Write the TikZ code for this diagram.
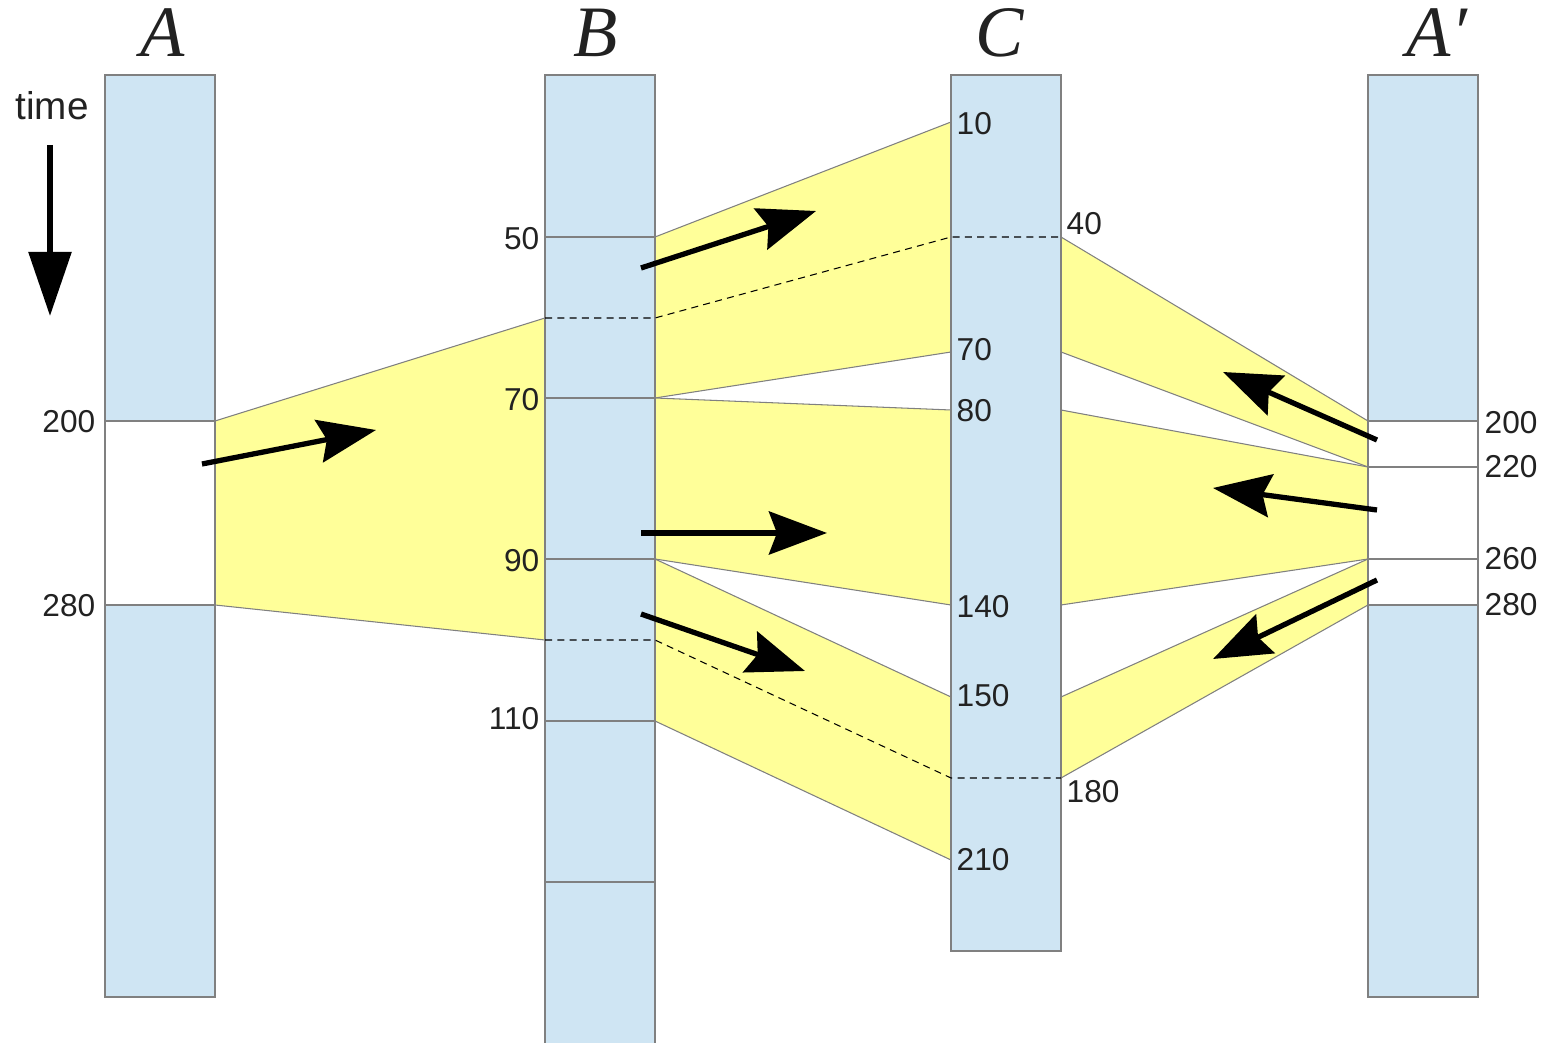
\documentclass[tikz,border=0pt]{standalone}
\usepackage{fontspec}
\setmainfont{Liberation Sans}
\newfontfamily\colfont{Liberation Serif}
\usepackage{xcolor}
\usetikzlibrary{arrows.meta}

\definecolor{slot}{RGB}{207,229,243}
\definecolor{band}{RGB}{255,255,153}
\definecolor{edge}{RGB}{128,128,128}
\definecolor{ink}{RGB}{34,34,34}

\tikzset{
  col/.style={fill=slot, draw=edge, line width=0.3pt},
  rim/.style={draw=edge, line width=0.3pt},
  bandarea/.style={fill=band, draw=edge, line width=0.3pt},
  seam/.style={line width=0.3pt, dash pattern=on 2pt off 1.5pt},
  flow/.style={line width=1.5pt, -{Stealth[length=5.8mm, width=4.3mm, inset=0.8mm]}},
  num/.style={font=\fontsize{9}{11}\selectfont, text=ink, inner sep=0pt},
  head/.style={font=\fontsize{20.6}{24}\selectfont\colfont\itshape, text=ink, inner sep=0pt, anchor=base}
}

\begin{document}
\begin{tikzpicture}[x=0.01cm, y=-0.01cm]
  \useasboundingbox (0,0) rectangle (1544,1043);

  % levels on the column edges
  \foreach \t/\y in {200/421, 280/605}{
    \coordinate (Al\t) at (105,\y);
    \coordinate (Ar\t) at (215,\y);
  }
  \foreach \t/\y in {50/237, 60/318, 70/398, 90/559, 100/640, 110/721, 130/882}{
    \coordinate (Bl\t) at (545,\y);
    \coordinate (Br\t) at (655,\y);
  }
  \foreach \t/\y in {10/122, 40/237, 70/352, 80/410, 140/605, 150/697, 180/778, 210/860}{
    \coordinate (Cl\t) at (951,\y);
    \coordinate (Cr\t) at (1061,\y);
  }
  \foreach \t/\y in {200/421, 220/467, 260/559, 280/605}{
    \coordinate (Pl\t) at (1368,\y);
    \coordinate (Pr\t) at (1478,\y);
  }

  % bands
  \filldraw[bandarea] (Ar200) -- (Bl60) -- (Bl100) -- (Ar280) -- cycle;
  \filldraw[bandarea] (Br50) -- (Cl10) -- (Cl70) -- (Br70) -- cycle;
  \filldraw[bandarea] (Br70) -- (Cl80) -- (Cl140) -- (Br90) -- cycle;
  \filldraw[bandarea] (Br90) -- (Cl150) -- (Cl210) -- (Br110) -- cycle;
  \filldraw[bandarea] (Cr40) -- (Pl200) -- (Pl220) -- (Cr70) -- cycle;
  \filldraw[bandarea] (Cr80) -- (Pl220) -- (Pl260) -- (Cr140) -- cycle;
  \filldraw[bandarea] (Cr150) -- (Pl260) -- (Pl280) -- (Cr180) -- cycle;

  % columns
  \fill[slot] (105,75) rectangle (215,421) (105,605) rectangle (215,997);
  \draw[rim] (105,75) rectangle (215,997);
  \filldraw[col] (545,75) rectangle (655,1060);
  \filldraw[col] (951,75) rectangle (1061,951);
  \fill[slot] (1368,75) rectangle (1478,421) (1368,605) rectangle (1478,997);
  \draw[rim] (1368,75) rectangle (1478,997);

  \foreach \t in {200,280} \draw[rim] (Al\t) -- (Ar\t);
  \foreach \t in {50,70,90,110,130} \draw[rim] (Bl\t) -- (Br\t);
  \foreach \t in {200,220,260,280} \draw[rim] (Pl\t) -- (Pr\t);

  \draw[seam] (Bl60) -- (Br60) -- (Cl40) -- (Cr40);
  \draw[seam] (Bl100) -- (Br100) -- (Cl180) -- (Cr180);

  % headings
  \node[head] (hA) at (163,57) {A};
  \node[head] (hB) at (596,57) {B};
  \node[head] (hC) at (1000,57) {C};
  \node[head] (hP) at (1437,57) {A′};

  % numbers
  \foreach \t/\y in {200/422, 280/606}
    \node[num, anchor=east] (nA\t) at (96,\y) {\t};
  \foreach \t/\y in {50/239, 70/400, 90/561, 110/719}
    \node[num, anchor=east] (nB\t) at (540,\y) {\t};
  \foreach \t/\y in {10/124, 70/350, 80/411, 140/607, 150/696, 210/860}
    \node[num, anchor=west] (nC\t) at (956,\y) {\t};
  \node[num, anchor=west] (nC40) at (1066,224) {40};
  \node[num, anchor=west] (nC180) at (1066,792) {180};
  \foreach \t/\y in {200/423, 220/467, 260/559, 280/605}
    \node[num, anchor=west] (nP\t) at (1484,\y) {\t};

  % time axis
  \node[font=\fontsize{11}{13}\selectfont, text=ink, inner sep=0pt, anchor=base] (time) at (52,120) {time};
  \coordinate (t0) at (50,145);
  \coordinate (t1) at (50,316);
  \draw[line width=1.6pt, -{Triangle[length=6.4mm, width=4.2mm]}] (t0) -- (t1);

  % transfers
  \foreach \sx/\sy/\ex/\ey [count=\i] in {202/464/376/430, 641/268/816/211, 641/533/827/533,
      641/614/805/671, 1377/440/1223/372, 1377/510/1213/488, 1377/580/1213/659}{
    \coordinate (s\i) at (\sx,\sy);
    \coordinate (e\i) at (\ex,\ey);
    \draw[flow] (s\i) -- (e\i);
  }
\end{tikzpicture}
\end{document}
